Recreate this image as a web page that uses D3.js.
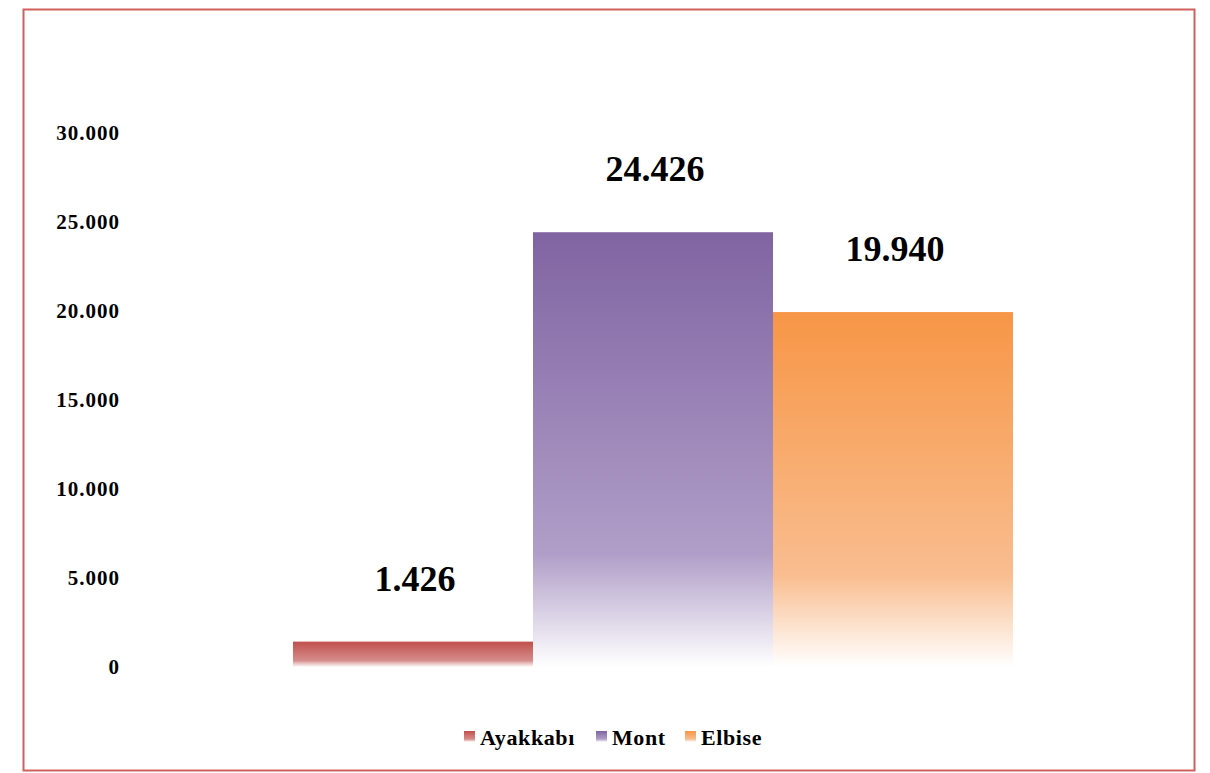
<!DOCTYPE html>
<html><head><meta charset="utf-8">
<script src="https://cdn.jsdelivr.net/npm/d3@7"></script>
<style>body{margin:0;background:#fff}svg{display:block}</style>
</head><body>
<svg id="c" width="1210" height="773"></svg>
<script>
const series = ["Ayakkabı", "Mont", "Elbise"];
const values = [1426, 24426, 19940];
const tickValues = [0, 5000, 10000, 15000, 20000, 25000, 30000];
const tickLabels = ["0", "5.000", "10.000", "15.000", "20.000", "25.000", "30.000"];
const colorsTop = ["#c0504d", "#8064a2", "#f79646"];
const colorsMid = ["#d58c8a", "#b09ec8", "#f9bd8f"];

const svg = d3.select("#c");
svg.append("rect").attr("x", 23.5).attr("y", 9.5).attr("width", 1171).attr("height", 761)
  .attr("fill", "#fff").attr("stroke", "#d0605e").attr("stroke-width", 2);

const defs = svg.append("defs");
series.forEach((s, i) => {
  const g = defs.append("linearGradient").attr("id", "g" + i)
    .attr("x1", 0).attr("y1", 0).attr("x2", 0).attr("y2", 1);
  g.append("stop").attr("offset", "0").attr("stop-color", colorsTop[i]);
  g.append("stop").attr("offset", "0.74").attr("stop-color", colorsMid[i]);
  g.append("stop").attr("offset", "1").attr("stop-color", "#ffffff");
});

const y = d3.scaleLinear().domain([0, 30000]).range([667, 133]);
const x = d3.scaleBand().domain(series).range([293, 1013]).paddingInner(0).paddingOuter(0);

const fmt = (v) => d3.format(",")(v).replace(/,/g, ".");
const serif = "'Liberation Serif', 'Times New Roman', serif";

// y axis labels
const yAxis = d3.axisLeft(y).tickValues(tickValues).tickSize(0).tickPadding(0)
  .tickFormat((d, i) => tickLabels[i]);
const ag = svg.append("g").attr("transform", "translate(120,0)").call(yAxis);
ag.select(".domain").remove();
ag.selectAll("text").attr("font-family", serif)
  .attr("font-weight", "bold").attr("font-size", 21).attr("letter-spacing", 1)
  .attr("fill", "#000").attr("dy", "0.3em");

// bars
svg.append("g").selectAll("rect").data(values).join("rect")
  .attr("x", (d, i) => x(series[i]))
  .attr("y", d => y(d))
  .attr("width", x.bandwidth())
  .attr("height", d => y(0) - y(d))
  .attr("fill", (d, i) => `url(#g${i})`);

// value labels
svg.append("g").selectAll("text").data(values).join("text")
  .attr("x", (d, i) => x(series[i]) + x.bandwidth() / 2 + 2)
  .attr("y", d => y(d) - 51)
  .attr("text-anchor", "middle")
  .attr("font-family", serif)
  .attr("font-weight", "bold").attr("font-size", 36).attr("fill", "#000")
  .text(d => fmt(d));

// legend
const legX = [464, 596, 685];
const leg = svg.append("g");
series.forEach((s, i) => {
  leg.append("rect").attr("x", legX[i]).attr("y", 731).attr("width", 11).attr("height", 11)
    .attr("fill", `url(#g${i})`);
  leg.append("text").attr("x", legX[i] + 16).attr("y", 745)
    .attr("font-family", serif)
    .attr("font-weight", "bold").attr("font-size", 22).attr("letter-spacing", 0.6)
    .attr("fill", "#000").text(s);
});
</script>
</body></html>
